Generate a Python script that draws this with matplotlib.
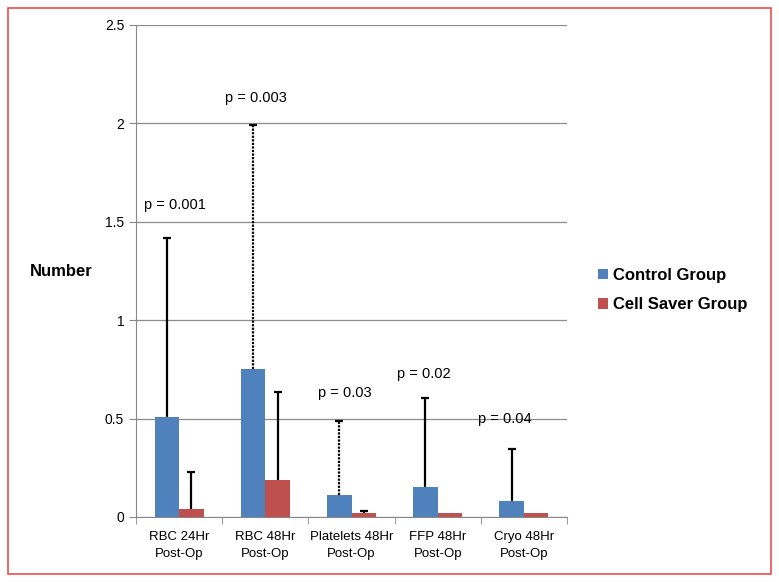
import numpy as np
import matplotlib
matplotlib.use("Agg")
import matplotlib.pyplot as plt
from matplotlib.patches import Rectangle

categories = ['RBC 24Hr\nPost-Op', 'RBC 48Hr\nPost-Op', 'Platelets 48Hr\nPost-Op',
              'FFP 48Hr\nPost-Op', 'Cryo 48Hr\nPost-Op']
control = [0.51, 0.75, 0.11, 0.15, 0.08]
control_err = [0.91, 1.24, 0.38, 0.455, 0.265]
saver = [0.04, 0.19, 0.02, 0.02, 0.02]
saver_err = [0.19, 0.445, 0.01, 0.0, 0.0]
p_labels = ['p = 0.001', 'p = 0.003', 'p = 0.03', 'p = 0.02', 'p = 0.04']
p_x = [-0.05, 0.89, 1.92, 2.84, 3.78]
p_y = [1.585, 2.13, 0.63, 0.727, 0.5]

plt.rcParams['font.family'] = ['Liberation Sans', 'DejaVu Sans']

fig = plt.figure(figsize=(7.79, 5.82), dpi=100)
fig.patches.append(Rectangle((8/779, 8/582), 763/779, 566/582, transform=fig.transFigure,
                             fill=False, edgecolor='#e8403a', linewidth=1.1))
ax = fig.add_axes([136/779, 1-517/582, 431/779, 492/582])

x = np.arange(len(categories))
w = 0.285
ax.bar(x - w/2, control, w, color='#4f81bd', label='Control Group', zorder=3)
ax.bar(x + w/2, saver, w, color='#c0504d', label='Cell Saver Group', zorder=3)


def up_err(xpos, base, err, ls):
    eb = ax.errorbar(xpos, base, yerr=[[0], [err]], fmt='none', ecolor='black',
                     elinewidth=1.6, capsize=3, capthick=1.6, zorder=4)
    eb[1][0].set_visible(False)  # only the upper cap
    eb[2][0].set_linestyle(ls)


dotted = [False, True, True, False, False]
for i in range(len(categories)):
    ls = (0, (1, 0.6)) if dotted[i] else '-'
    up_err(x[i] - w/2, control[i], control_err[i], ls)
    if saver_err[i] > 0:
        up_err(x[i] + w/2, saver[i], saver_err[i], '-')

for i in range(len(p_labels)):
    ax.text(p_x[i], p_y[i], p_labels[i], ha='center', va='center', fontsize=10.5, zorder=5)

ax.set_xlim(-0.5, 4.5)
ax.set_ylim(0, 2.5)
ax.set_yticks([0, 0.5, 1, 1.5, 2, 2.5])
ax.set_yticklabels(['0', '0.5', '1', '1.5', '2', '2.5'], fontsize=10)
ax.set_xticks(x)
ax.set_xticklabels(categories, fontsize=9.5, linespacing=1.55)
ax.set_xticks(np.arange(-0.5, 5, 1), minor=True)
ax.tick_params(axis='x', which='major', length=0, pad=10)
ax.tick_params(axis='x', which='minor', length=5, color='#888888')
ax.tick_params(axis='y', length=5, color='#888888')
ax.yaxis.grid(True, color='#8c8c8c', linewidth=0.9, zorder=0)
ax.set_axisbelow(True)
for s in ['top', 'right']:
    ax.spines[s].set_visible(False)
for s in ['left', 'bottom']:
    ax.spines[s].set_color('#888888')

fig.text(30/779, 1-272/582, 'Number', fontsize=12, fontweight='bold', va='center', ha='left')

leg = fig.legend(loc='center left', bbox_to_anchor=(583/779, 1-290/582), frameon=False,
                 prop={'size': 12, 'weight': 'bold'}, handlelength=0.6, handleheight=0.6,
                 handletextpad=0.3, labelspacing=0.85)

fig.savefig('out.png', dpi=100)
